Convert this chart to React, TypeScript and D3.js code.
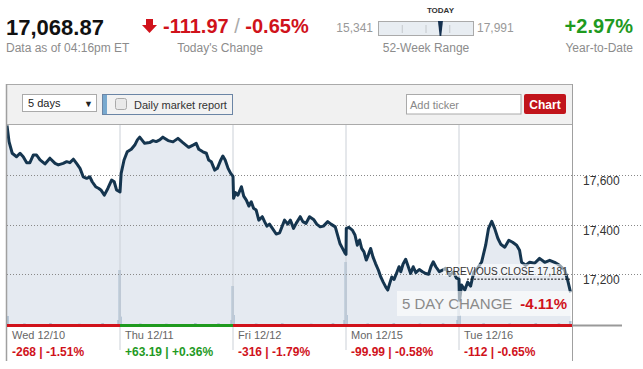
import * as d3 from "d3"

// intraday prices, [minutes after open, price]
const wedPrices: [number, number][] = [
  [0, 17801], [7, 17736], [18, 17689], [33, 17675], [45, 17689], [56, 17675], [68, 17651],
  [79, 17651], [91, 17682], [102, 17682], [114, 17662], [131, 17646], [148, 17669], [166, 17648],
  [177, 17642], [194, 17648], [206, 17655], [217, 17651], [229, 17665], [240, 17648], [252, 17628],
  [263, 17594], [275, 17588], [286, 17594], [294, 17574], [306, 17554], [317, 17547], [324, 17541],
  [336, 17520], [348, 17547], [361, 17581], [370, 17574], [378, 17541], [390, 17533],
]
const thuPrices: [number, number][] = [
  [0, 17533], [4, 17608], [14, 17662], [25, 17695], [39, 17705], [51, 17722], [60, 17743],
  [68, 17754], [85, 17729], [102, 17732], [114, 17740], [125, 17736], [137, 17743], [148, 17754],
  [166, 17740], [183, 17735], [200, 17749], [217, 17732], [237, 17713], [252, 17722], [263, 17729],
  [272, 17705], [286, 17695], [298, 17689], [306, 17662], [315, 17655], [327, 17621], [336, 17628],
  [348, 17662], [355, 17678], [363, 17662], [373, 17628], [382, 17608], [390, 17596],
]
const friPrices: [number, number][] = [
  [0, 17596], [2, 17507], [9, 17530], [17, 17520], [29, 17554], [37, 17516], [46, 17500],
  [55, 17476], [63, 17493], [71, 17467], [80, 17460], [89, 17419], [101, 17433], [109, 17413],
  [117, 17395], [126, 17403], [136, 17386], [149, 17363], [161, 17368], [178, 17419], [189, 17403],
  [198, 17419], [209, 17386], [218, 17406], [232, 17433], [241, 17413], [252, 17406], [264, 17433],
  [278, 17422], [289, 17403], [301, 17392], [312, 17395], [327, 17413], [338, 17403], [353, 17392],
  [361, 17359], [369, 17325], [378, 17305], [387, 17285], [390, 17281],
]
const monPrices: [number, number][] = [
  [0, 17281], [1, 17386], [10, 17390], [22, 17379], [31, 17359], [39, 17318], [47, 17339],
  [54, 17305], [62, 17291], [70, 17258], [77, 17278], [85, 17305], [93, 17271], [102, 17244],
  [112, 17217], [120, 17190], [128, 17170], [137, 17150], [144, 17137], [151, 17164], [158, 17190],
  [166, 17180], [174, 17204], [183, 17231], [189, 17211], [197, 17242], [206, 17261], [215, 17231],
  [223, 17204], [232, 17231], [241, 17207], [253, 17220], [264, 17211], [275, 17204], [285, 17201],
  [293, 17231], [301, 17251], [310, 17231], [322, 17211], [333, 17217], [344, 17225], [358, 17197],
  [371, 17209], [381, 17185], [390, 17181],
]
const tuePrices: [number, number][] = [
  [0, 17181], [2, 17096], [9, 17157], [20, 17137], [30, 17169], [40, 17153], [51, 17209],
  [64, 17225], [78, 17250], [92, 17318], [102, 17386], [113, 17414], [123, 17386], [134, 17346],
  [144, 17322], [158, 17310], [172, 17338], [185, 17330], [199, 17318], [209, 17298], [216, 17249],
  [230, 17237], [244, 17249], [261, 17245], [278, 17265], [296, 17249], [313, 17257], [330, 17249],
  [347, 17237], [365, 17217], [375, 17177], [385, 17128],
]

// volume, [minutes after open, millions of shares]
const wedVolume: [number, number][] = [[2, 4.5], [60, 0.8], [150, 1], [250, 0.7], [330, 1], [385, 2.5], [389, 27.5]]
const thuVolume: [number, number][] = [[2, 4.2], [70, 0.8], [160, 0.7], [260, 1], [340, 0.9], [385, 2.5], [389, 19.5]]
const friVolume: [number, number][] = [[2, 5], [80, 0.8], [170, 0.9], [270, 0.7], [345, 1], [385, 2.5], [389, 31.5]]
const monVolume: [number, number][] = [[2, 5], [75, 0.8], [165, 1], [255, 0.8], [335, 0.9], [385, 2.5], [389, 29]]
const tueVolume: [number, number][] = [[2, 5], [85, 0.9], [175, 0.8], [265, 1], [345, 0.9], [384, 2]]

const dayLabels = ["Wed 12/10", "Thu 12/11", "Fri 12/12", "Mon 12/15", "Tue 12/16"]
const dayChanges = [-268, 63.19, -316, -99.99, -112]
const dayChangeLabels = ["-268 | -1.51%", "+63.19 | +0.36%", "-316 | -1.79%", "-99.99 | -0.58%", "-112 | -0.65%"]
const priceTicks = [17200, 17400, 17600]

const lastPrice = 17068.87
const previousClose = 17181
const weekLow = 15341
const weekHigh = 17991

const FONT = "Arial, 'Liberation Sans', sans-serif"
const RED = "#d0121b"
const GREEN = "#1f9a1f"
const GRAY = "#8c8c8c"
const SESSION = 390

export default function App() {
  const left = 7
  const right = 572
  const top = 125
  const bottom = 325

  const days = [wedPrices, thuPrices, friPrices, monPrices, tuePrices]
  const volumes = [wedVolume, thuVolume, friVolume, monVolume, tueVolume]

  const x = d3.scaleLinear().domain([0, SESSION * 5]).range([left, right])
  const y = d3.scaleLinear().domain([16996, 17803]).range([bottom, top])
  const vol = d3.scaleLinear().domain([0, 32]).range([0, 64])

  const points = days.flatMap((d, i) => d.map(([m, p]) => ({ t: i * SESSION + m, p })))

  const line = d3.line<{ t: number; p: number }>()
    .x((d) => x(d.t))
    .y((d) => y(d.p))
  const area = d3.area<{ t: number; p: number }>()
    .x((d) => x(d.t))
    .y0(bottom)
    .y1((d) => y(d.p))

  const bars = volumes.flatMap((d, i) => d.map(([m, v]) => ({ t: i * SESSION + m, v })))

  const range = d3.scaleLinear().domain([weekLow, weekHigh]).range([378.5, 473.5])
  const needle = range(lastPrice)

  const dayStarts = d3.range(1, 5).map((i) => x(i * SESSION))
  const pcY = y(previousClose)

  return (
    <svg width={643} height={369} style={{ position: "absolute", left: 0, top: 0, background: "#fff" }}
      fontFamily={FONT}>
      {/* header */}
      <text x={6} y={35} fontSize={22} fontWeight="bold" fill="#111">{d3.format(",.2f")(lastPrice)}</text>
      <text x={6} y={52} fontSize={12} fill={GRAY}>Data as of 04:16pm ET</text>

      <path d="M146,19 L153,19 L153,25 L157,25 L149.5,33 L142,25 L146,25 Z" fill={RED} />
      <text x={163} y={33} fontSize={20} fontWeight="bold" fill={RED}>
        -111.97<tspan fill="#aaa" fontWeight="normal"> / </tspan>-0.65%
      </text>
      <text x={220} y={52} fontSize={12} fill={GRAY} textAnchor="middle">Today's Change</text>

      <text x={373} y={32} fontSize={12} fill="#999" textAnchor="end">{d3.format(",")(weekLow)}</text>
      <rect x={378.5} y={21.5} width={95} height={14} fill="#e8edf2" stroke="#aaa" />
      {[0.25, 0.5, 0.75].map((f) => (
        <line key={f} x1={range(weekLow + f * (weekHigh - weekLow))} x2={range(weekLow + f * (weekHigh - weekLow))}
          y1={25} y2={33} stroke="#c4c8cc" />
      ))}
      <path d={`M${needle - 2.5},21 L${needle + 2.5},21 L${needle + 0.8},36 L${needle - 0.8},36 Z`} fill="#14304f" />
      <text x={needle} y={13} fontSize={8} fontWeight="bold" fill="#333" textAnchor="middle">TODAY</text>
      <text x={477} y={32} fontSize={12} fill="#999">{d3.format(",")(weekHigh)}</text>
      <text x={426} y={52} fontSize={12} fill={GRAY} textAnchor="middle">52-Week Range</text>

      <text x={633} y={33} fontSize={20} fontWeight="bold" fill={GREEN} textAnchor="end">+2.97%</text>
      <text x={633} y={52} fontSize={12} fill={GRAY} textAnchor="end">Year-to-Date</text>

      {/* toolbar */}
      <rect x={left} y={84} width={right - left} height={40} fill="#f1f1f1" />
      <line x1={left} x2={right} y1={84.5} y2={84.5} stroke="#aaa" />
      <line x1={left} x2={right} y1={124.5} y2={124.5} stroke="#aaa" />
      <rect x={22.5} y={94.5} width={74} height={17} fill="#fff" stroke="#aaa" />
      <text x={28} y={107} fontSize={11} fill="#222">5 days</text>
      <text x={84} y={107} fontSize={9} fill="#222">▼</text>
      <rect x={102.5} y={94.5} width={130} height={20} fill="#f2f2f2" stroke="#6b85a5" />
      <rect x={103} y={95} width={4} height={19} fill="#78a9cf" />
      <rect x={115.5} y={98.5} width={11} height={11} rx={2} fill="#e9e9e9" stroke="#aaa" />
      <text x={134} y={108.5} fontSize={11} fill="#333">Daily market report</text>
      <rect x={406.5} y={94.5} width={114.5} height={19.5} fill="#fff" stroke="#aaa" />
      <text x={410} y={108.5} fontSize={11} fill="#888">Add ticker</text>
      <rect x={524} y={94} width={42} height={20} rx={2} fill="#c1141b" />
      <text x={545} y={108.5} fontSize={12} fontWeight="bold" fill="#fff" textAnchor="middle">Chart</text>

      {/* plot */}
      <defs>
        <clipPath id="plot">
          <rect x={left} y={top} width={right - left} height={bottom - top} />
        </clipPath>
      </defs>
      <g clipPath="url(#plot)">
        <path d={area(points) ?? ""} fill="#e5eaf1" />
        {bars.map((b, i) => (
          <rect key={i} x={x(b.t) - 1.3} y={bottom - vol(b.v)} width={2.6} height={vol(b.v)} fill="#b2c3d4" />
        ))}
      </g>
      {dayStarts.map((d, i) => (
        <line key={i} x1={d} x2={d} y1={top} y2={350} stroke="#cbd0d7" />
      ))}
      {priceTicks.map((t) => (
        <g key={t}>
          <line x1={left} x2={643} y1={Math.round(y(t)) + 0.5} y2={Math.round(y(t)) + 0.5}
            stroke="#888" strokeDasharray="1,2" />
          <text x={583} y={y(t) + 10} fontSize={12} fill="#333">{d3.format(",")(t)}</text>
        </g>
      ))}
      <g clipPath="url(#plot)">
        <path d={line(points) ?? ""} fill="none" stroke="#15354f" strokeWidth={3} strokeLinejoin="round" />
      </g>

      {/* previous close */}
      <line x1={x(4 * SESSION) + 8} x2={right - 2} y1={pcY} y2={pcY} stroke="#111" strokeDasharray="2,1.5" />
      <rect x={443} y={264} width={124} height={12} fill="#fff" fillOpacity={0.55} />
      <text x={446} y={274.5} fontSize={10} fill="#333">PREVIOUS CLOSE {d3.format(",")(previousClose)}</text>

      {/* 5 day change */}
      <rect x={397} y={291} width={175} height={25} fill="#fff" fillOpacity={0.6} />
      <text x={402} y={309} fontSize={15} fill="#8a8a8a">5 DAY CHANGE</text>
      <text x={567} y={309} fontSize={15} fontWeight="bold" fill={RED} textAnchor="end">-4.11%</text>

      {/* frame */}
      <line x1={6.5} x2={6.5} y1={84} y2={361} stroke="#a0a0a0" strokeWidth={1.5} />
      <line x1={572.5} x2={572.5} y1={84} y2={361} stroke="#a0a0a0" />
      <line x1={right} x2={622} y1={325.5} y2={325.5} stroke="#999" strokeWidth={2} />
      {dayLabels.map((label, i) => {
        const x0 = x(i * SESSION)
        const x1 = x((i + 1) * SESSION)
        const c = dayChanges[i] >= 0 ? GREEN : RED
        return (
          <g key={label}>
            <line x1={x0} x2={x1} y1={325.5} y2={325.5} stroke={c} strokeWidth={3} />
            <text x={x0 + 5} y={339} fontSize={11} fill="#666">{label}</text>
            <text x={x0 + 5} y={356} fontSize={12} fontWeight="bold" fill={c}>{dayChangeLabels[i]}</text>
          </g>
        )
      })}
    </svg>
  )
}
